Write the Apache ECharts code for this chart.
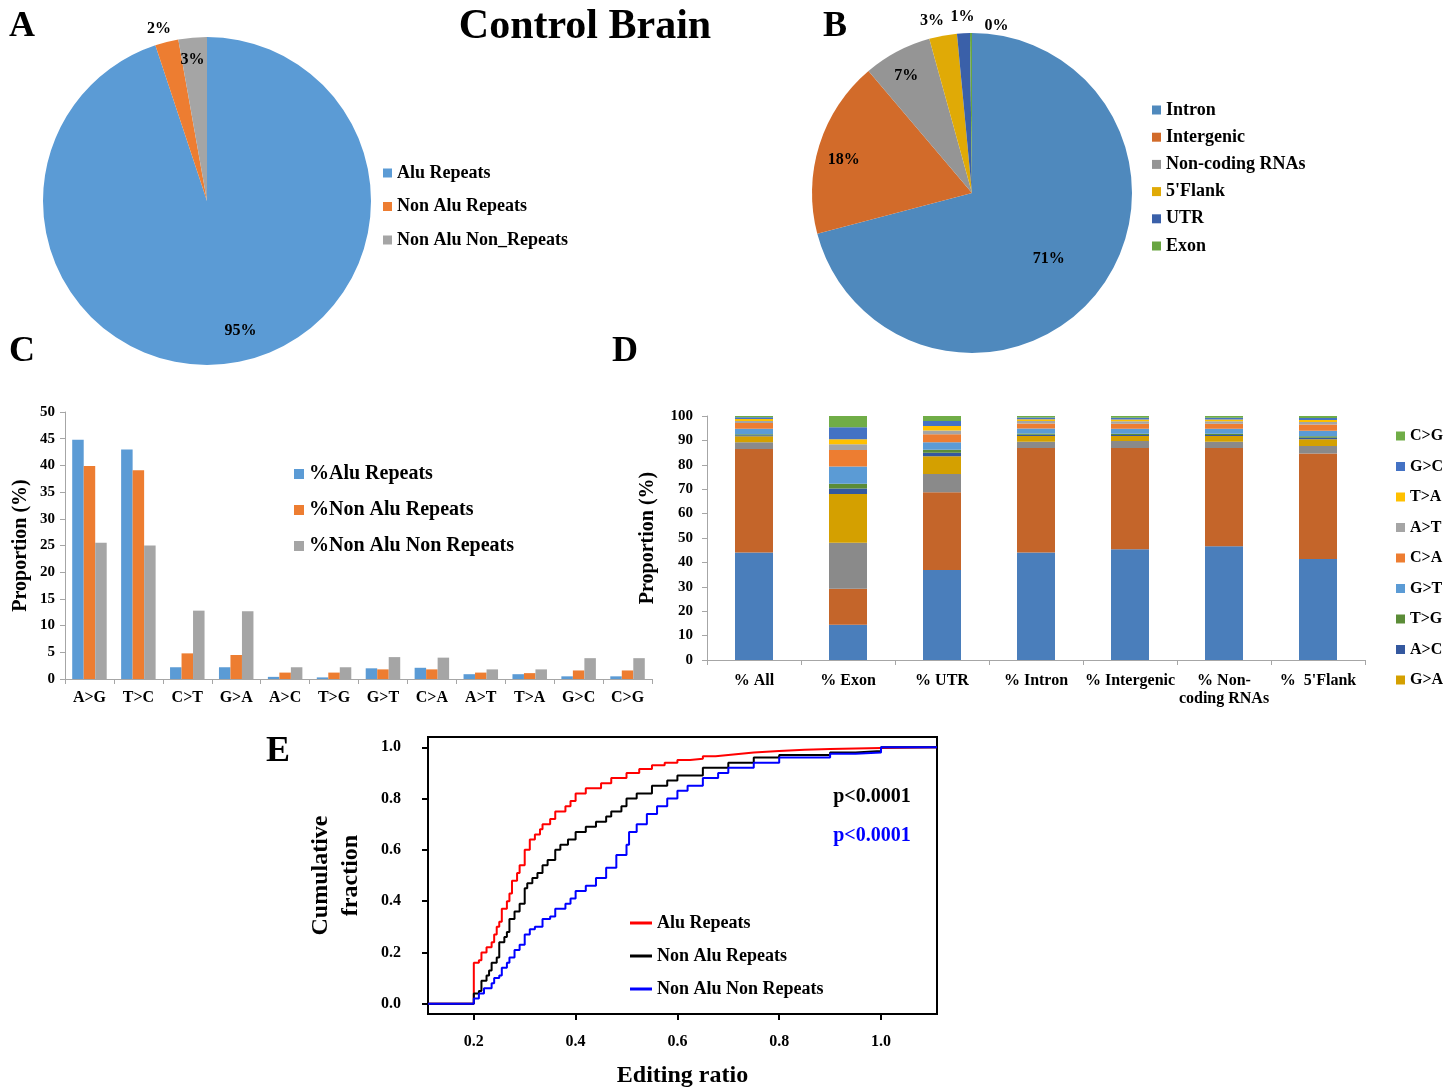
<!DOCTYPE html>
<html><head><meta charset="utf-8">
<script src="https://cdn.jsdelivr.net/npm/echarts@6/dist/echarts.min.js"></script>
<style>html,body{margin:0;padding:0;background:#fff}#c{width:1455px;height:1089px}</style>
</head><body><div id="c"></div>
<script>
const FONT = 'Liberation Serif';

// ---- Panel A ----
const pieANames = ['Alu Repeats', 'Non Alu Repeats', 'Non Alu Non_Repeats'];
const pieAValues = [94.9, 2.3, 2.8];
const pieAColors = ['#5b9bd5', '#ed7d31', '#a5a5a5'];

// ---- Panel B ----
const pieBNames = ['Intron', 'Intergenic', 'Non-coding RNAs', "5'Flank", 'UTR', 'Exon'];
const pieBValues = [70.9, 17.9, 6.9, 2.8, 1.3, 0.2];
const pieBColors = ['#4f89bd', '#d26b2a', '#959595', '#e0aa06', '#3a60a9', '#68a541'];

// ---- Panel C ----
const subTypes = ['A>G', 'T>C', 'C>T', 'G>A', 'A>C', 'T>G', 'G>T', 'C>A', 'A>T', 'T>A', 'G>C', 'C>G'];
const cNames = ['%Alu Repeats', '%Non Alu Repeats', '%Non Alu Non Repeats'];
const cAlu = [44.8, 43.0, 2.2, 2.2, 0.4, 0.3, 2.0, 2.1, 0.9, 0.9, 0.5, 0.5];
const cNonAlu = [39.9, 39.1, 4.8, 4.5, 1.2, 1.2, 1.8, 1.8, 1.2, 1.1, 1.6, 1.6];
const cNonAluNon = [25.5, 25.0, 12.8, 12.7, 2.2, 2.2, 4.1, 4.0, 1.8, 1.8, 3.9, 3.9];
const cColors = ['#5b9bd5', '#ed7d31', '#a5a5a5'];

// ---- Panel D ----
const dCategories = ['% All', '% Exon', '% UTR', '% Intron', '% Intergenic', '% Non-\ncoding RNAs', "%  5'Flank"];
const dAG = [44.1, 14.4, 36.9, 44.1, 45.4, 46.6, 41.4];
const dTC = [42.4, 14.8, 31.8, 42.8, 41.5, 40.3, 43.2];
const dCT = [2.7, 18.9, 7.5, 2.5, 2.9, 2.5, 3.1];
const dGA = [2.5, 19.9, 7.3, 2.4, 2.0, 2.4, 2.8];
const dAC = [0.4, 2.3, 1.4, 0.5, 0.4, 0.4, 0.6];
const dTG = [0.4, 1.9, 1.3, 0.5, 0.5, 0.5, 0.6];
const dGT = [2.3, 7.1, 3.0, 2.1, 2.1, 2.1, 2.3];
const dCA = [2.3, 6.8, 3.3, 2.0, 2.0, 2.0, 2.5];
const dAT = [0.9, 2.3, 1.6, 1.0, 1.0, 1.0, 1.0];
const dTA = [0.8, 2.1, 1.8, 0.8, 0.8, 0.8, 0.9];
const dGC = [0.7, 4.9, 2.1, 0.7, 0.7, 0.7, 0.8];
const dCG = [0.5, 4.6, 2.0, 0.6, 0.7, 0.7, 0.8];
const dStackNames = ['A>G', 'T>C', 'C>T', 'G>A', 'A>C', 'T>G', 'G>T', 'C>A', 'A>T', 'T>A', 'G>C', 'C>G'];
const dStackData = [dAG, dTC, dCT, dGA, dAC, dTG, dGT, dCA, dAT, dTA, dGC, dCG];
const dColors = ['#4a7ebb', '#c4652a', '#8a8a8a', '#d4a000', '#34589f', '#5b8c37', '#5b9bd5', '#ed7d31', '#a5a5a5', '#ffc000', '#4472c4', '#70ad47'];
const dLegendNames = ['C>G', 'G>C', 'T>A', 'A>T', 'C>A', 'G>T', 'T>G', 'A>C', 'G>A'];

// ---- Panel E (cumulative fractions) ----
const eNames = ['Alu Repeats', 'Non Alu Repeats', 'Non Alu Non Repeats'];
const eColors = ['#ff0000', '#000000', '#0000ff'];
const aluX = [0.11,0.2,0.21,0.215,0.225,0.235,0.24,0.245,0.25,0.255,0.265,0.27,0.275,0.285,0.29,0.3,0.31,0.32,0.33,0.335,0.35,0.36,0.38,0.39,0.4,0.42,0.45,0.47,0.5,0.525,0.55,0.575,0.6,0.625,0.65,0.675,0.7,0.725,0.75,0.8,0.85,0.9,0.95,1.0,1.11];
const aluY = [0,0.16,0.17,0.20,0.22,0.24,0.27,0.30,0.32,0.37,0.40,0.43,0.48,0.51,0.54,0.60,0.64,0.66,0.68,0.70,0.72,0.75,0.77,0.79,0.82,0.84,0.86,0.88,0.90,0.915,0.93,0.94,0.95,0.955,0.965,0.97,0.975,0.98,0.985,0.99,0.993,0.995,0.997,1.0,1.0];
const nonAluX = [0.11,0.2,0.21,0.215,0.225,0.23,0.235,0.245,0.25,0.26,0.265,0.27,0.28,0.29,0.3,0.305,0.315,0.325,0.335,0.345,0.36,0.37,0.385,0.4,0.42,0.44,0.46,0.47,0.49,0.5,0.52,0.55,0.58,0.6,0.65,0.7,0.75,0.8,0.9,0.95,1.0,1.11];
const nonAluY = [0,0.04,0.05,0.09,0.11,0.13,0.16,0.18,0.24,0.26,0.28,0.33,0.36,0.39,0.45,0.47,0.49,0.51,0.54,0.56,0.60,0.62,0.64,0.67,0.69,0.71,0.73,0.75,0.77,0.80,0.82,0.85,0.87,0.89,0.92,0.94,0.96,0.97,0.98,0.985,1.0,1.0];
const nonAluNonX = [0.11,0.2,0.21,0.22,0.235,0.24,0.25,0.255,0.265,0.27,0.28,0.29,0.3,0.31,0.32,0.335,0.35,0.36,0.38,0.39,0.4,0.42,0.44,0.46,0.48,0.5,0.505,0.52,0.54,0.56,0.58,0.6,0.62,0.65,0.68,0.7,0.75,0.8,0.9,0.95,1.0,1.11];
const nonAluNonY = [0,0.02,0.04,0.06,0.08,0.10,0.11,0.14,0.16,0.18,0.21,0.23,0.27,0.29,0.30,0.33,0.34,0.37,0.39,0.41,0.44,0.46,0.49,0.53,0.58,0.62,0.67,0.70,0.74,0.77,0.80,0.83,0.85,0.88,0.90,0.92,0.94,0.96,0.975,0.98,1.0,1.0];
const eTicks = [0.2, 0.4, 0.6, 0.8, 1.0];
const eYTicks = [0.0, 0.2, 0.4, 0.6, 0.8, 1.0];

// label nudges (style only)
const pieAShift = [[20, 46], [-27, -90], [-7, -56]];
const pieBShift = [[11, 15], [-49, -8], [-27, -44], [-25, -91], [-5, -93], [25, -84]];

const E_PREFIX = 'E: ';
const bold = (size, color) => ({ fontFamily: FONT, fontWeight: 'bold', fontSize: size, color: color || '#000' });
const grey = '#a6a6a6';

const txt = (text, x, y, size, color) => ({
  type: 'text', x, y, silent: true,
  style: { text, fill: color || '#000', font: 'bold ' + size + 'px "' + FONT + '"',
           textAlign: 'center', textVerticalAlign: 'middle', align: 'center', verticalAlign: 'middle' }
});

const pairs = (xs, ys) => xs.map((x, i) => [x, ys[i]]);

const chart = echarts.init(document.getElementById('c'));
const option = {
  animation: false,
  backgroundColor: '#fff',
  textStyle: { fontFamily: FONT },
  graphic: [
    txt('Control Brain', 585, 27, 42),
    txt('A', 22, 27, 36), txt('B', 835, 27, 36),
    txt('C', 22, 352, 36), txt('D', 625, 352, 36), txt('E', 278, 752, 36),
    txt('p<0.0001', 872, 797, 20, '#000'),
    txt('p<0.0001', 872, 836, 20, '#0000ff')
  ],
  legend: [
    { data: pieANames, left: 383, top: 164, padding: 0, orient: 'vertical', icon: 'rect', itemWidth: 9, itemHeight: 9, itemGap: 15.5, selectedMode: false, textStyle: bold(18) },
    { data: pieBNames, left: 1152, top: 101, padding: 0, orient: 'vertical', icon: 'rect', itemWidth: 9, itemHeight: 9, itemGap: 9.2, selectedMode: false, textStyle: bold(18) },
    { data: cNames, left: 294, top: 464, padding: 0, orient: 'vertical', icon: 'rect', itemWidth: 10, itemHeight: 10, itemGap: 16, selectedMode: false, textStyle: bold(20) },
    { data: dLegendNames, left: 1396, top: 428, padding: 0, orient: 'vertical', icon: 'rect', itemWidth: 9, itemHeight: 9, itemGap: 14.5, selectedMode: false, textStyle: bold(16) },
    { data: eNames.map(n => E_PREFIX + n), left: 630, top: 914, padding: 0, orient: 'vertical', icon: 'rect', itemWidth: 22, itemHeight: 3, itemGap: 15, selectedMode: false, textStyle: bold(18),
      formatter: n => n.replace(E_PREFIX, '') }
  ],
  grid: [
    { left: 65, top: 412, width: 587, height: 267 },
    { left: 707, top: 416, width: 658, height: 244 },
    { left: 428, top: 737, width: 509, height: 281, show: true, borderColor: '#000', borderWidth: 2, backgroundColor: 'transparent' }
  ],
  xAxis: [
    { gridIndex: 0, type: 'category', data: subTypes,
      axisLine: { lineStyle: { color: grey, width: 1 } },
      axisTick: { show: true, length: 5, lineStyle: { color: grey } },
      axisLabel: Object.assign({ interval: 0, margin: 10, lineHeight: 18 }, bold(16)),
      splitLine: { show: false } },
    { gridIndex: 1, type: 'category', data: dCategories,
      axisLine: { lineStyle: { color: grey, width: 1 } },
      axisTick: { show: true, length: 5, lineStyle: { color: grey } },
      axisLabel: Object.assign({ interval: 0, margin: 12, lineHeight: 18 }, bold(16)),
      splitLine: { show: false } },
    { gridIndex: 2, type: 'value', min: 0.11, max: 1.11,
      axisLine: { show: true, onZero: false, lineStyle: { color: '#000', width: 2 } },
      axisTick: { show: true, customValues: eTicks, length: 6, lineStyle: { color: '#000', width: 2 } },
      axisLabel: Object.assign({ customValues: eTicks, formatter: v => v.toFixed(1), margin: 19, lineHeight: 18 }, bold(16)),
      splitLine: { show: false },
      name: 'Editing ratio', nameLocation: 'middle', nameGap: 50, nameTextStyle: bold(24) }
  ],
  yAxis: [
    { gridIndex: 0, type: 'value', min: 0, max: 50, interval: 5,
      axisLine: { show: true, lineStyle: { color: grey, width: 1 } },
      axisTick: { show: true, length: 5, lineStyle: { color: grey } },
      axisLabel: Object.assign({ margin: 10 }, bold(15)),
      splitLine: { show: false },
      name: 'Proportion (%)', nameLocation: 'middle', nameGap: 34, nameRotate: 90, nameTextStyle: bold(20) },
    { gridIndex: 1, type: 'value', min: 0, max: 100, interval: 10,
      axisLine: { show: true, lineStyle: { color: grey, width: 1 } },
      axisTick: { show: true, length: 5, lineStyle: { color: grey } },
      axisLabel: Object.assign({ margin: 14 }, bold(15)),
      splitLine: { show: false },
      name: 'Proportion (%)', nameLocation: 'middle', nameGap: 49, nameRotate: 90, nameTextStyle: bold(20) },
    { gridIndex: 2, type: 'value', min: -0.04, max: 1.04,
      axisLine: { show: true, onZero: false, lineStyle: { color: '#000', width: 2 } },
      axisTick: { show: true, customValues: eYTicks, length: 6, lineStyle: { color: '#000', width: 2 } },
      axisLabel: Object.assign({ customValues: eYTicks, formatter: v => v.toFixed(1), margin: 27 }, bold(16)),
      splitLine: { show: false },
      name: 'Cumulative\nfraction', nameLocation: 'middle', nameGap: 62, nameRotate: 90,
      nameTextStyle: Object.assign({ lineHeight: 30 }, bold(24)) }
  ],
  series: [
    { type: 'pie', name: 'A', center: [207, 201], radius: 164, startAngle: 90, clockwise: true, silent: true,
      data: pieANames.map((n, i) => ({ name: n, value: pieAValues[i], itemStyle: { color: pieAColors[i] } })),
      itemStyle: { borderWidth: 0 },
      label: Object.assign({ position: 'inside', formatter: p => Math.round(p.percent) + '%' }, bold(16)),
      labelLine: { show: false },
      labelLayout: p => ({ dx: pieAShift[p.dataIndex][0], dy: pieAShift[p.dataIndex][1] }) },
    { type: 'pie', name: 'B', center: [972, 193], radius: 160, startAngle: 90, clockwise: true, silent: true,
      data: pieBNames.map((n, i) => ({ name: n, value: pieBValues[i], itemStyle: { color: pieBColors[i] } })),
      itemStyle: { borderWidth: 0 },
      label: Object.assign({ position: 'inside', formatter: p => Math.round(p.percent) + '%' }, bold(16)),
      labelLine: { show: false },
      labelLayout: p => ({ dx: pieBShift[p.dataIndex][0], dy: pieBShift[p.dataIndex][1] }) },
    ...[cAlu, cNonAlu, cNonAluNon].map((arr, i) => ({
      type: 'bar', name: cNames[i], xAxisIndex: 0, yAxisIndex: 0, data: arr,
      barWidth: 11.5, barGap: '0%', itemStyle: { color: cColors[i] }, silent: true })),
    ...dStackData.map((arr, i) => ({
      type: 'bar', name: dStackNames[i], stack: 'd', xAxisIndex: 1, yAxisIndex: 1, data: arr,
      barWidth: 38, itemStyle: { color: dColors[i] }, silent: true })),
    ...[[aluX, aluY], [nonAluX, nonAluY], [nonAluNonX, nonAluNonY]].map((xy, i) => ({
      type: 'line', name: E_PREFIX + eNames[i], xAxisIndex: 2, yAxisIndex: 2, step: 'end',
      data: pairs(xy[0], xy[1]), showSymbol: false, symbol: 'none',
      lineStyle: { color: eColors[i], width: 2 }, itemStyle: { color: eColors[i] }, silent: true }))
  ]
};
chart.setOption(option);
</script>
</body></html>
